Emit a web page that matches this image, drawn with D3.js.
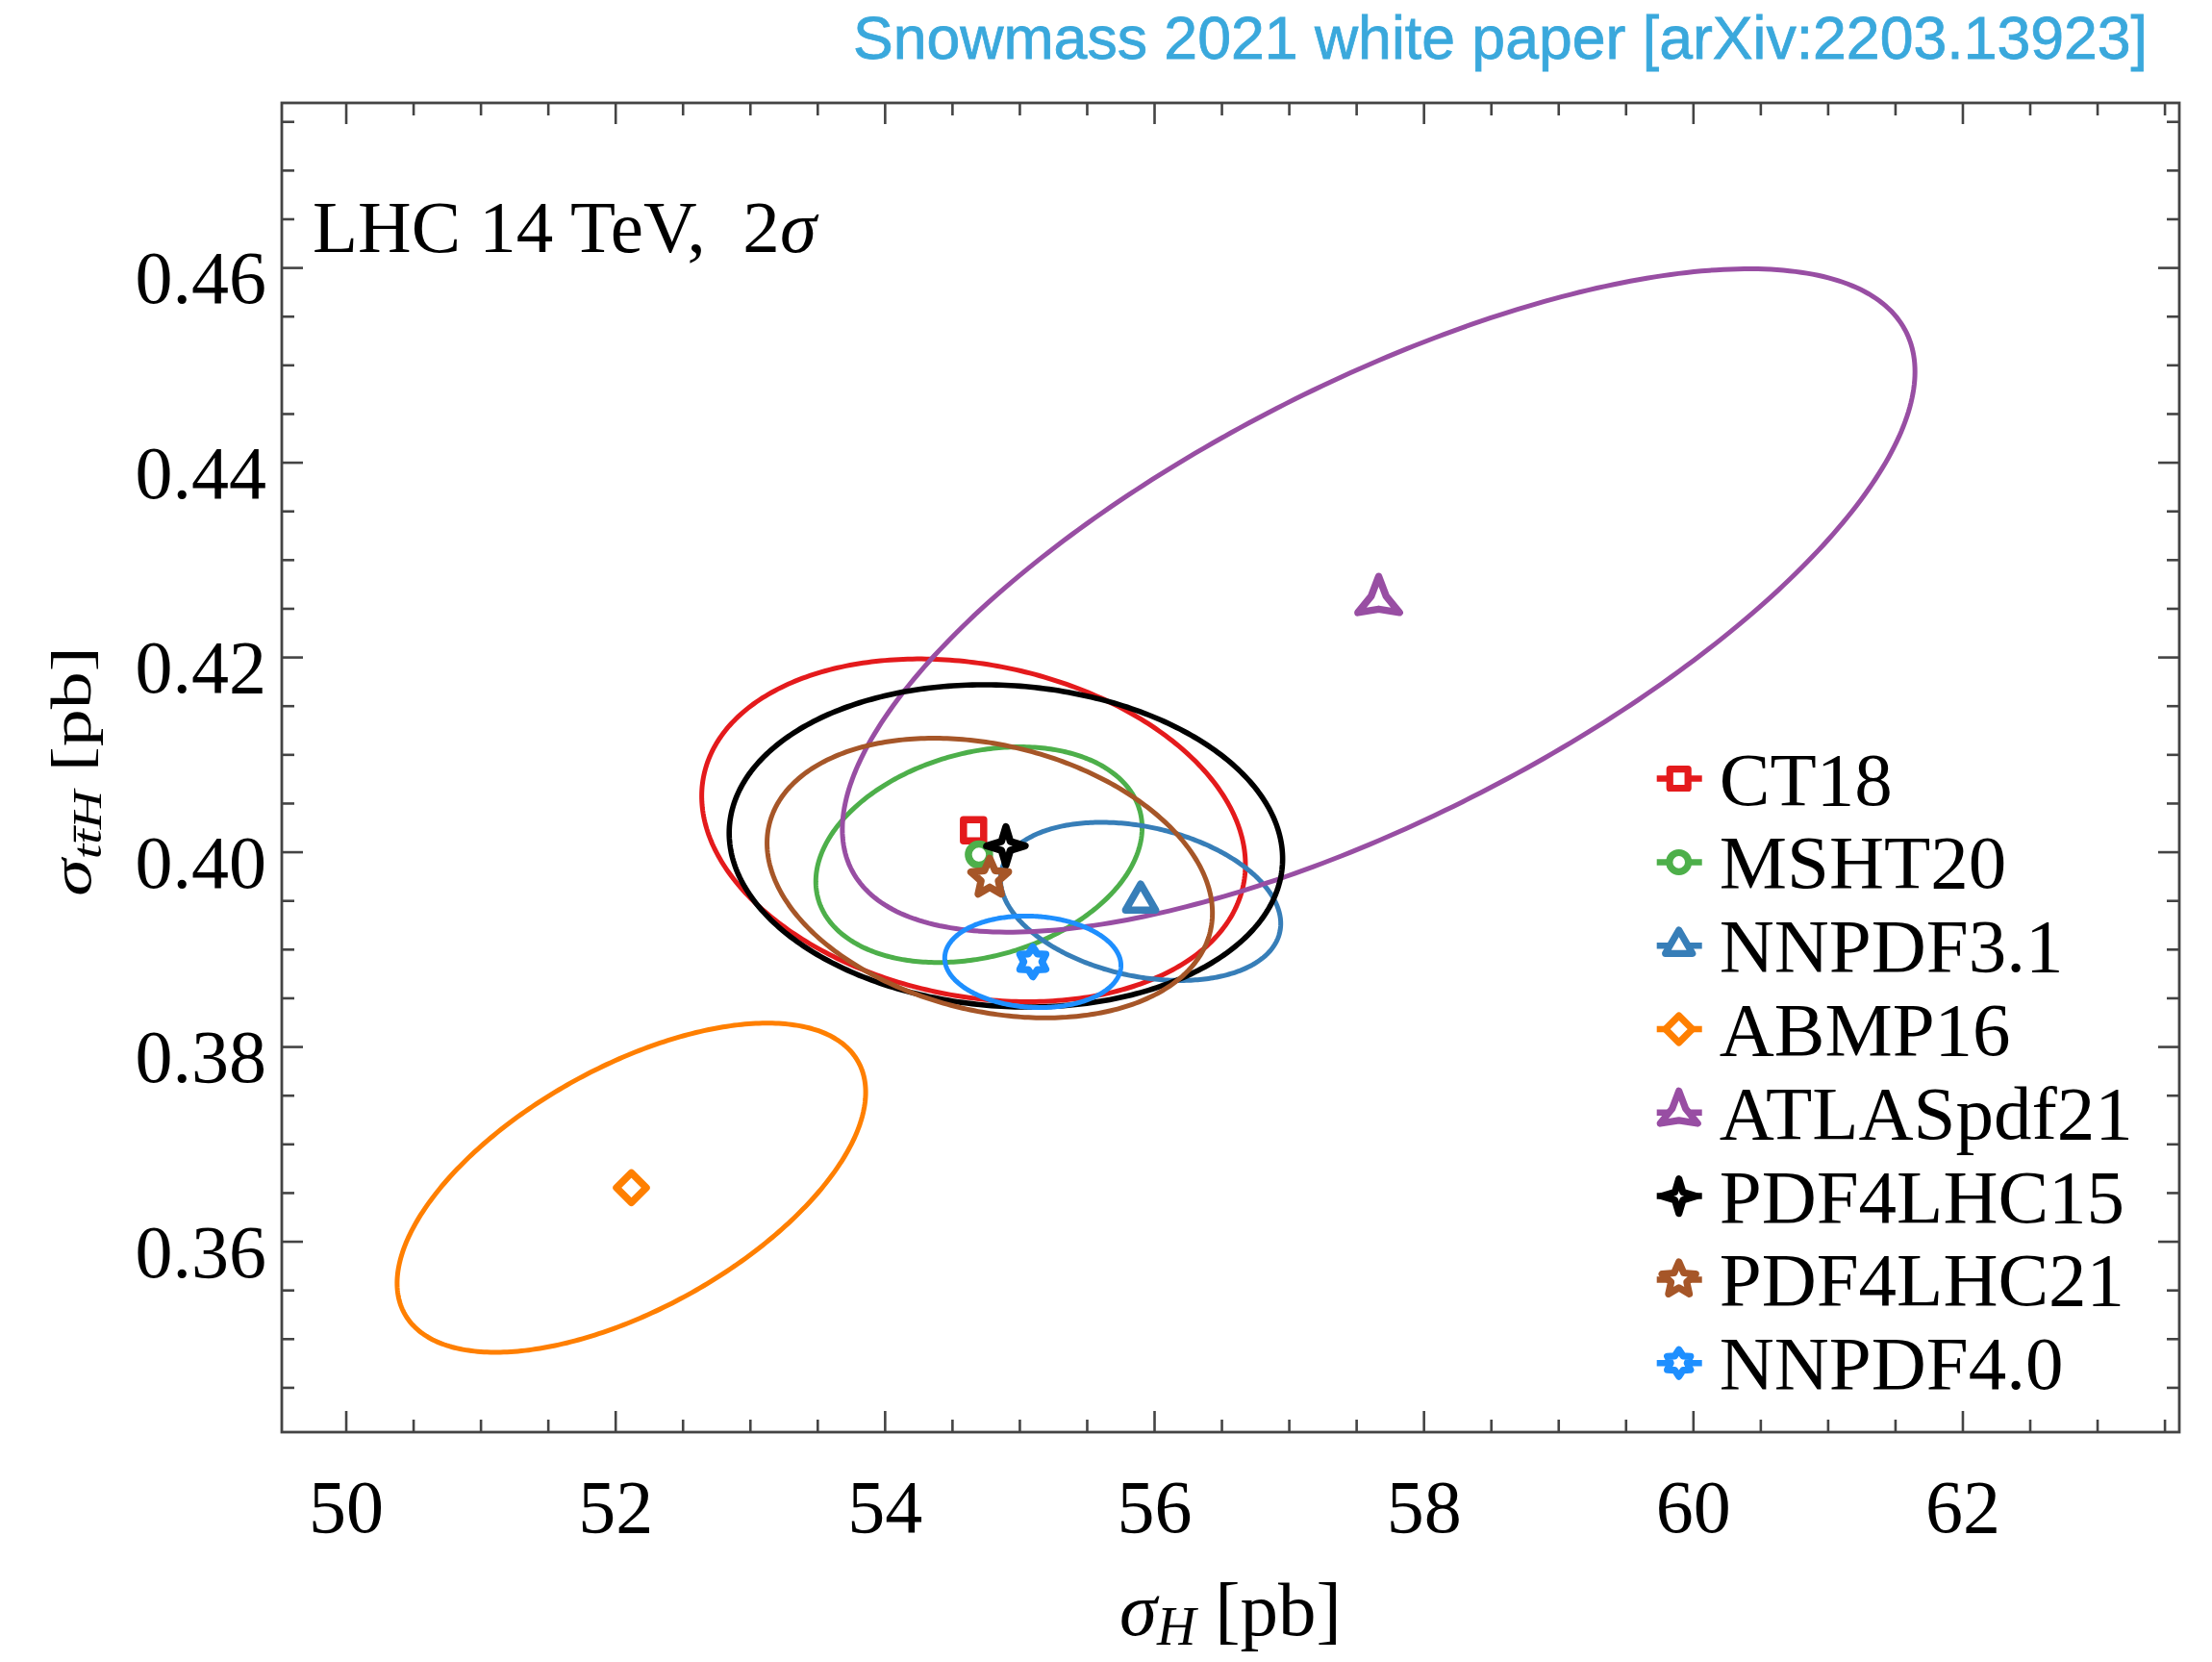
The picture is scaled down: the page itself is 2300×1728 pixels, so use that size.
<!DOCTYPE html>
<html>
<head>
<meta charset="utf-8">
<script src="https://cdn.jsdelivr.net/npm/d3@7"></script>
<style>
  body { margin: 0; background: #ffffff; }
  svg { display: block; }
</style>
</head>
<body>
<svg id="chart" width="2300" height="1728"></svg>
<script>
// PDF sets: central cross sections and 2-sigma ellipse parameters (LHC 14 TeV)
const pdfSets   = ["CT18", "MSHT20", "NNPDF3.1", "ABMP16", "ATLASpdf21", "PDF4LHC15", "PDF4LHC21", "NNPDF4.0"];
const sigmaH    = [54.66, 54.70, 55.90, 52.12, 57.667, 54.90, 54.78, 55.10];          // pb
const sigmaTTH  = [0.4022, 0.3997, 0.3949, 0.3655, 0.4258, 0.4006, 0.3973, 0.3887];   // pb
const deltaH    = [2.018, 1.211, 1.040, 1.739, 3.981, 2.054, 1.653, 0.654];           // 2σ half-range, pb
const deltaTTH  = [0.0176, 0.01107, 0.00812, 0.0169, 0.03406, 0.01655, 0.01436, 0.0047];
const corr      = [-0.20, 0.25, -0.28, 0.58, 0.69, -0.08, -0.25, -0.08];

const xMajorTicks = [50, 52, 54, 56, 58, 60, 62];
const yMajorTicks = [0.36, 0.38, 0.40, 0.42, 0.44, 0.46];

// styling
const colors = ["#e41a1c", "#4daf4a", "#377eb8", "#ff7f00", "#984ea3", "#000000", "#a65628", "#1e8fff"];
const shapes = ["square", "circle", "triangle", "diamond", "tristar", "star4", "star5", "star6"];

const W = 2300, H = 1728;
const plot = { left: 293, right: 2266, top: 107, bottom: 1489 };
const serif = "'Liberation Serif', 'Times New Roman', serif";

const svg = d3.select("#chart");
svg.append("rect").attr("width", W).attr("height", H).attr("fill", "#ffffff");

const x = d3.scaleLinear().domain([49.525, 63.61]).range([plot.left, plot.right]);
const y = d3.scaleLinear().domain([0.3404, 0.4769]).range([plot.bottom, plot.top]);

const xMinor = d3.range(49.5, 63.75, 0.5).filter(v => v > 49.525 && v < 63.61 && !xMajorTicks.includes(v));
const yMinor = d3.range(0.34, 0.4775, 0.005).map(v => +v.toFixed(3))
  .filter(v => v > 0.3404 && v < 0.4769 && !yMajorTicks.some(t => Math.abs(t - v) < 1e-6));

const frameColor = "#444444";

function styleAxis(g) {
  g.select(".domain").remove();
  g.selectAll(".tick line").attr("stroke", frameColor).attr("stroke-width", 2.6);
}

// bottom axis
svg.append("g").attr("transform", `translate(0,${plot.bottom})`)
  .call(d3.axisBottom(x).tickValues(xMajorTicks).tickSize(-22).tickPadding(49).tickFormat(d3.format("d")))
  .call(styleAxis)
  .call(g => g.selectAll("text").attr("font-family", serif).attr("font-size", 78).attr("fill", "#000"));
svg.append("g").attr("transform", `translate(0,${plot.bottom})`)
  .call(d3.axisBottom(x).tickValues(xMinor).tickSize(-13).tickFormat(""))
  .call(styleAxis);

// top axis (ticks only)
svg.append("g").attr("transform", `translate(0,${plot.top})`)
  .call(d3.axisTop(x).tickValues(xMajorTicks).tickSize(-22).tickFormat(""))
  .call(styleAxis);
svg.append("g").attr("transform", `translate(0,${plot.top})`)
  .call(d3.axisTop(x).tickValues(xMinor).tickSize(-13).tickFormat(""))
  .call(styleAxis);

// left axis
svg.append("g").attr("transform", `translate(${plot.left},0)`)
  .call(d3.axisLeft(y).tickValues(yMajorTicks).tickSize(-22).tickPadding(16).tickFormat(d3.format(".2f")))
  .call(styleAxis)
  .call(g => g.selectAll("text").attr("font-family", serif).attr("font-size", 78).attr("fill", "#000").attr("dy", "0.47em"));
svg.append("g").attr("transform", `translate(${plot.left},0)`)
  .call(d3.axisLeft(y).tickValues(yMinor).tickSize(-13).tickFormat(""))
  .call(styleAxis);

// right axis (ticks only)
svg.append("g").attr("transform", `translate(${plot.right},0)`)
  .call(d3.axisRight(y).tickValues(yMajorTicks).tickSize(-22).tickFormat(""))
  .call(styleAxis);
svg.append("g").attr("transform", `translate(${plot.right},0)`)
  .call(d3.axisRight(y).tickValues(yMinor).tickSize(-13).tickFormat(""))
  .call(styleAxis);

// frame
svg.append("rect")
  .attr("x", plot.left).attr("y", plot.top)
  .attr("width", plot.right - plot.left).attr("height", plot.bottom - plot.top)
  .attr("fill", "none").attr("stroke", frameColor).attr("stroke-width", 2.8);

// 2σ ellipses
const line = d3.line().x(d => x(d[0])).y(d => y(d[1])).curve(d3.curveLinearClosed);
function ellipsePoints(i) {
  const r = corr[i], s = Math.sqrt(1 - r * r);
  return d3.range(0, 360, 1).map(k => {
    const t = k * Math.PI / 180;
    return [sigmaH[i] + deltaH[i] * Math.cos(t),
            sigmaTTH[i] + deltaTTH[i] * (r * Math.cos(t) + s * Math.sin(t))];
  });
}
svg.append("g").selectAll("path.ellipse")
  .data(pdfSets.map((name, i) => i))
  .join("path")
  .attr("class", "ellipse")
  .attr("d", i => line(ellipsePoints(i)))
  .attr("fill", "none")
  .attr("stroke", i => colors[i])
  .attr("stroke-width", i => i === 5 ? 5.6 : 5);

// marker shapes
function starPath(n, R, r) {
  const pts = [];
  for (let k = 0; k < 2 * n; k++) {
    const a = -Math.PI / 2 + k * Math.PI / n;
    const rr = k % 2 === 0 ? R : r;
    pts.push([rr * Math.cos(a), rr * Math.sin(a)]);
  }
  return "M" + pts.map(p => p[0].toFixed(2) + "," + p[1].toFixed(2)).join("L") + "Z";
}
function markerPath(shape) {
  switch (shape) {
    case "square":   return "M-10.5,-11H10.5V11H-10.5Z";
    case "circle":   return "M11,0A11,11 0 1,1 -11,0A11,11 0 1,1 11,0Z";
    case "triangle": return "M0,-18L15.6,9L-15.6,9Z";
    case "diamond":  return "M0,-15.5L15.5,0L0,15.5L-15.5,0Z";
    case "tristar":  return starPath(3, 25, 9);
    case "star4":    return starPath(4, 20, 6.5);
    case "star5":    return starPath(5, 20.5, 9.5);
    case "star6":    return starPath(6, 15.5, 9.5);
  }
}

// central values
svg.append("g").selectAll("path.marker")
  .data(pdfSets.map((name, i) => i))
  .join("path")
  .attr("class", "marker")
  .attr("transform", i => `translate(${x(sigmaH[i])},${y(sigmaTTH[i])})`)
  .attr("d", i => markerPath(shapes[i]))
  .attr("fill", "none")
  .attr("stroke", i => colors[i])
  .attr("stroke-width", 7.5)
  .attr("stroke-linejoin", "round");

// legend
const legend = svg.append("g").attr("transform", "translate(1745.7,809.6)");
const rows = legend.selectAll("g.row")
  .data(pdfSets.map((name, i) => i))
  .join("g")
  .attr("class", "row")
  .attr("transform", i => `translate(0,${i * 86.8})`);
rows.append("line")
  .attr("x1", -23).attr("x2", 24).attr("y1", 0).attr("y2", 0)
  .attr("stroke", i => colors[i]).attr("stroke-width", 6.5);
rows.append("path")
  .attr("d", i => markerPath(shapes[i]))
  .attr("transform", "scale(0.9)")
  .attr("fill", "#ffffff")
  .attr("stroke", i => colors[i])
  .attr("stroke-width", 8)
  .attr("stroke-linejoin", "round");
rows.append("text")
  .attr("x", 42).attr("y", 27)
  .attr("font-family", serif).attr("font-size", 79).attr("fill", "#000")
  .text(i => pdfSets[i]);

// annotation
const ann = svg.append("text")
  .attr("x", 325).attr("y", 262)
  .attr("font-family", serif).attr("font-size", 77).attr("fill", "#000")
  .attr("xml:space", "preserve");
ann.append("tspan").text("LHC 14 TeV,  2");
ann.append("tspan").attr("font-style", "italic").text("σ");

// x-axis title
const xt = svg.append("text")
  .attr("x", (plot.left + plot.right) / 2).attr("y", 1700)
  .attr("text-anchor", "middle")
  .attr("font-family", serif).attr("font-size", 79).attr("fill", "#000");
xt.append("tspan").attr("font-style", "italic").text("σ");
xt.append("tspan").attr("font-style", "italic").attr("font-size", 56).attr("dy", 10).text("H");
xt.append("tspan").attr("dy", -10).text(" [pb]");

// y-axis title
const yt = svg.append("text")
  .attr("transform", `translate(94,${(plot.top + plot.bottom) / 2 + 4}) rotate(-90) scale(1.3,1)`)
  .attr("text-anchor", "middle")
  .attr("font-family", serif).attr("font-size", 60).attr("fill", "#000");
yt.append("tspan").attr("font-style", "italic").text("σ");
yt.append("tspan").attr("font-style", "italic").attr("font-size", 43).attr("dy", 11).text("tt\u0304H");
yt.append("tspan").attr("dy", -11).text(" [pb]");

// header
svg.append("text")
  .attr("x", 2233).attr("y", 61)
  .attr("text-anchor", "end")
  .attr("font-family", "'Liberation Sans', Arial, sans-serif")
  .attr("font-size", 63)
  .attr("fill", "#3aa8dc")
  .attr("stroke", "#3aa8dc").attr("stroke-width", 0.8)
  .attr("textLength", 1346)
  .attr("lengthAdjust", "spacingAndGlyphs")
  .text("Snowmass 2021 white paper [arXiv:2203.13923]");
</script>
</body>
</html>
